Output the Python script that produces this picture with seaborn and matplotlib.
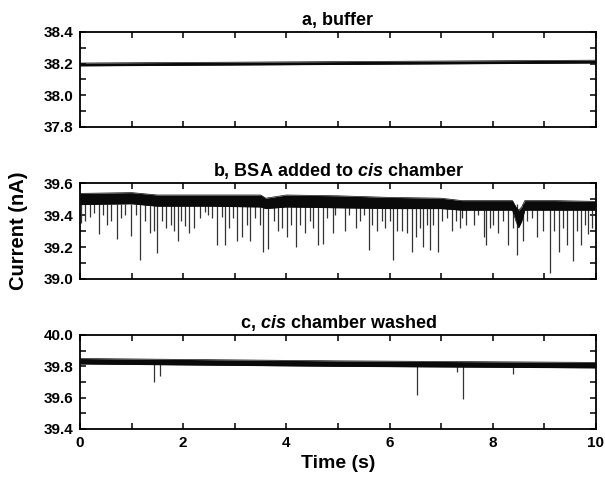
import numpy as np
import pandas as pd
import matplotlib
matplotlib.use("Agg")
import matplotlib.pyplot as plt
from matplotlib.ticker import MultipleLocator, FormatStrFormatter
import seaborn as sns

# ---------------- data ----------------
titles = ["a, buffer", "b, BSA added to $\\mathbf{\\it{cis}}$ chamber", "c, $\\mathbf{\\it{cis}}$ chamber washed"]

# noise band of each trace: knot times, upper and lower edge (nA)
a_t = [0.0, 5.0, 10.0]
a_top = [38.204, 38.213, 38.222]
a_bot = [38.186, 38.195, 38.204]

b_t = [0.0, 1.0, 1.5, 2.5, 3.5, 3.6, 4.0, 5.0, 6.0, 7.0, 7.4, 8.38, 8.45, 8.5, 8.56, 8.62, 9.2, 10.0]
b_top = [39.535, 39.54, 39.525, 39.525, 39.525, 39.505, 39.525, 39.52, 39.51, 39.505,
         39.49, 39.49, 39.45, 39.43, 39.45, 39.49, 39.49, 39.485]
b_bot = [39.465, 39.47, 39.455, 39.455, 39.45, 39.44, 39.45, 39.445, 39.44, 39.44,
         39.43, 39.43, 39.36, 39.32, 39.36, 39.43, 39.43, 39.43]

c_t = [0.0, 5.0, 10.0]
c_top = [39.85, 39.835, 39.825]
c_bot = [39.815, 39.80, 39.79]

# blockade events: time (s) and lowest current (nA)
b_spike_t = [0.01, 0.10, 0.19, 0.28, 0.36, 0.45, 0.53, 0.61, 0.72, 0.80, 0.87, 0.98, 1.09,
             1.16, 1.25, 1.35, 1.43, 1.50, 1.58, 1.67, 1.77, 1.83, 1.89, 1.96, 2.03, 2.11,
             2.21, 2.32, 2.42, 2.49, 2.55, 2.65, 2.75, 2.81, 2.89, 2.97, 3.05, 3.13, 3.23,
             3.29, 3.39, 3.49, 3.55, 3.65, 3.75, 3.84, 3.92, 4.01, 4.09, 4.18, 4.26, 4.36,
             4.46, 4.52, 4.61, 4.70, 4.78, 4.91, 4.95, 5.13, 5.21, 5.34, 5.43, 5.50, 5.61,
             5.66, 5.76, 5.85, 5.92, 6.00, 6.07, 6.14, 6.24, 6.34, 6.43, 6.51, 6.58, 6.65,
             6.72, 6.79, 6.85, 6.94, 7.02, 7.11, 7.20, 7.29, 7.37, 7.40, 7.49, 7.64, 7.72,
             7.83, 7.87, 7.95, 8.01, 8.11, 8.19, 8.30, 8.40, 8.46, 8.59, 8.66, 8.75, 8.85,
             8.98, 9.10, 9.19, 9.28, 9.37, 9.44, 9.56, 9.64, 9.70, 9.79, 9.85, 9.92]
b_spike_v = [39.35, 39.36, 39.39, 39.41, 39.28, 39.40, 39.34, 39.36, 39.25, 39.38, 39.40,
             39.27, 39.40, 39.12, 39.36, 39.29, 39.30, 39.16, 39.36, 39.32, 39.34, 39.30,
             39.24, 39.36, 39.33, 39.29, 39.32, 39.38, 39.42, 39.40, 39.38, 39.21, 39.39,
             39.21, 39.32, 39.38, 39.24, 39.26, 39.34, 39.24, 39.38, 39.34, 39.17, 39.19,
             39.36, 39.30, 39.32, 39.26, 39.34, 39.20, 39.34, 39.29, 39.36, 39.32, 39.21,
             39.22, 39.38, 39.29, 39.40, 39.30, 39.40, 39.32, 39.36, 39.40, 39.18, 39.34,
             39.30, 39.36, 39.32, 39.36, 39.12, 39.30, 39.30, 39.29, 39.17, 39.26, 39.32,
             39.20, 39.34, 39.18, 39.34, 39.17, 39.36, 39.38, 39.30, 39.36, 39.32, 39.38,
             39.34, 39.34, 39.40, 39.26, 39.21, 39.32, 39.34, 39.29, 39.36, 39.21, 39.32,
             39.15, 39.24, 39.36, 39.38, 39.26, 39.30, 39.04, 39.30, 39.17, 39.32, 39.21,
             39.11, 39.30, 39.21, 39.34, 39.28, 39.32]

c_spike_t = [1.43, 1.55, 6.53, 7.30, 7.43, 8.39]
c_spike_v = [39.70, 39.74, 39.62, 39.765, 39.59, 39.75]

ylims = [(37.8, 38.4), (39.0, 39.6), (39.4, 40.0)]

# ---------------- style ----------------
sns.set_theme(style="ticks")
plt.rcParams["font.family"] = ["Liberation Sans", "DejaVu Sans"]
plt.rcParams["font.weight"] = "bold"
plt.rcParams["text.color"] = "black"
plt.rcParams["axes.labelcolor"] = "black"
plt.rcParams["xtick.color"] = "black"
plt.rcParams["ytick.color"] = "black"
plt.rcParams["xtick.labelcolor"] = "black"
plt.rcParams["ytick.labelcolor"] = "black"
plt.rcParams["mathtext.fontset"] = "custom"
plt.rcParams["mathtext.it"] = "Liberation Sans:bold:italic"
plt.rcParams["mathtext.bf"] = "Liberation Sans:bold"
plt.rcParams["mathtext.rm"] = "Liberation Sans:bold"

fig = plt.figure(figsize=(6.05, 4.83), dpi=100)
left, width = 80 / 605, (596 - 80) / 605
tops = [32, 183, 335]
bots = [127, 279, 429]
axes = []
for tp, bt in zip(tops, bots):
    axes.append(fig.add_axes([left, 1 - bt / 483, width, (bt - tp) / 483]))

bands = [(a_t, a_top, a_bot), (b_t, b_top, b_bot), (c_t, c_top, c_bot)]
spikes = [None, (b_spike_t, b_spike_v, 39.47), (c_spike_t, c_spike_v, 39.815)]

for i, ax in enumerate(axes):
    t, top, bot = bands[i]
    df = pd.DataFrame({"t": t, "top": top, "bot": bot})
    if spikes[i] is not None:
        st, sv, ref = spikes[i]
        ax.vlines(st, sv, ref, color="#333333", linewidth=0.9, zorder=2)
    ax.fill_between(df["t"], df["bot"], df["top"], color="#0a0a0a", linewidth=0, zorder=3)
    sns.lineplot(data=df, x="t", y="top", ax=ax, color="#0a0a0a", linewidth=0.5, zorder=3)
    sns.lineplot(data=df, x="t", y="bot", ax=ax, color="#0a0a0a", linewidth=0.5, zorder=3)

    ax.set_xlim(0, 10)
    ax.set_ylim(*ylims[i])
    ax.xaxis.set_major_locator(MultipleLocator(2))
    ax.xaxis.set_minor_locator(MultipleLocator(1))
    ax.yaxis.set_major_locator(MultipleLocator(0.2))
    ax.yaxis.set_minor_locator(MultipleLocator(0.1))
    ax.yaxis.set_major_formatter(FormatStrFormatter("%.1f"))
    ax.tick_params(which="both", direction="in", top=True, right=True,
                   length=4.5, width=1.1, color="black", labelcolor="black",
                   labelsize=11, pad=5)
    for s in ax.spines.values():
        s.set_visible(True)
        s.set_linewidth(1.3)
        s.set_color("black")
    ax.set_xlabel("")
    ax.set_ylabel("")
    ax.set_title(titles[i], fontsize=13, fontweight="bold", pad=5, color="black")
    for lab in ax.get_yticklabels():
        lab.set_fontweight("bold")
    if i < 2:
        ax.tick_params(labelbottom=False)
    else:
        for lab in ax.get_xticklabels():
            lab.set_fontweight("bold")

axes[2].set_xlabel("Time (s)", fontsize=14, fontweight="bold", labelpad=4, color="black")
fig.text(0.03, 1 - 231 / 483, "Current (nA)", rotation=90, fontsize=14.5,
         fontweight="bold", ha="center", va="center", color="black")

fig.savefig("out.png", dpi=100)
